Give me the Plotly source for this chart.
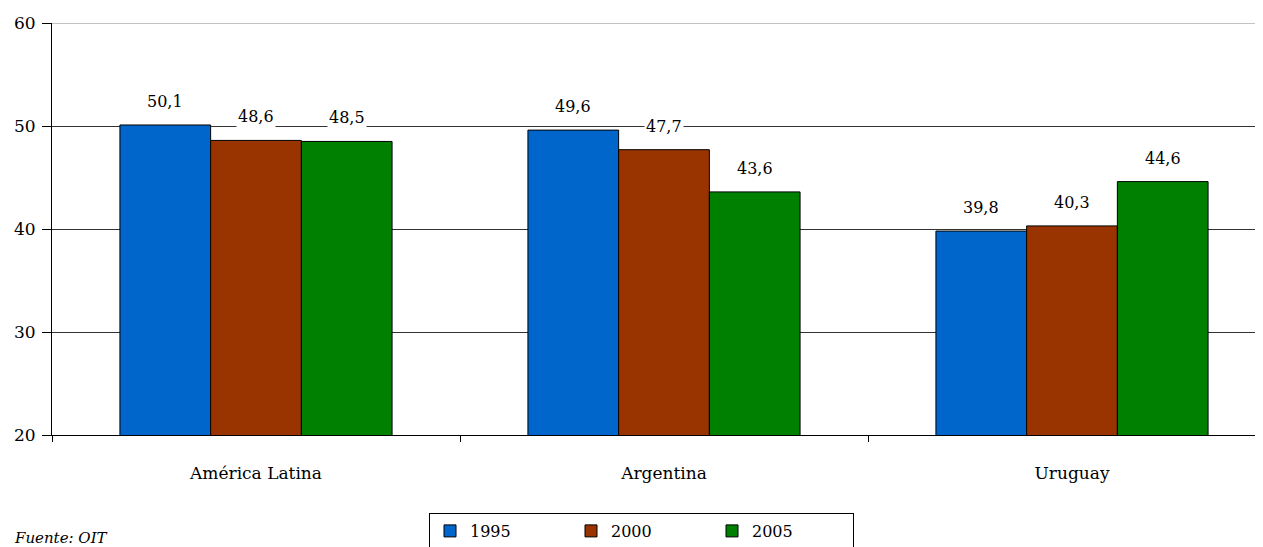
import plotly.graph_objects as go

categories = ["América Latina", "Argentina", "Uruguay"]
years = ["1995", "2000", "2005"]
values_1995 = [50.1, 49.6, 39.8]
values_2000 = [48.6, 47.7, 40.3]
values_2005 = [48.5, 43.6, 44.6]
colors = ["#0066CC", "#993300", "#008000"]
y_ticks = [20, 30, 40, 50, 60]

series = [values_1995, values_2000, values_2005]
FONT = "DejaVu Serif"

PL, PR, PT, PB = 52, 1263, 23, 435
PW, PH = PR - PL, PB - PT
H = 575

fig = go.Figure()
for name, vals, col in zip(years, series, colors):
    fig.add_trace(go.Bar(
        x=categories, y=vals, name=name,
        marker=dict(color=col, line=dict(color="black", width=1)),
    ))

bargap = 0.333
bw = (1 - bargap) / 3
for j, vals in enumerate(series):
    for i, v in enumerate(vals):
        fig.add_annotation(
            x=i + (j - 1) * bw, y=v, xref="x", yref="y",
            text=f"{v:.1f}".replace(".", ","), showarrow=False,
            yanchor="bottom", yshift=12, bgcolor="white",
            font=dict(family=FONT, size=16, color="black"),
        )

fig.add_annotation(
    x=(12 - PL) / PW, y=(PB - 538) / PH, xref="paper", yref="paper",
    text="<i>Fuente: OIT</i>",
    showarrow=False, xanchor="left", yanchor="middle",
    font=dict(family=FONT, size=15, color="black"),
)

# top border line at the upper end of the value axis
fig.add_shape(type="line", xref="paper", yref="y", x0=0, x1=1,
              y0=y_ticks[-1], y1=y_ticks[-1],
              line=dict(color="#888888", width=1), layer="below")

fig.update_layout(
    width=1255, height=H,
    margin=dict(l=PL - 8, r=0, t=PT - 8, b=H - (PT - 8) - PH),
    plot_bgcolor="white", paper_bgcolor="white",
    barmode="group", bargap=bargap, bargroupgap=0,
    font=dict(family=FONT, size=16, color="black"),
    showlegend=True,
    legend=dict(
        orientation="h", x=(641.5 - PL) / PW, xanchor="center",
        y=(PB - 513) / PH, yanchor="top",
        bordercolor="black", borderwidth=1, bgcolor="white",
        entrywidth=96, entrywidthmode="pixels",
        font=dict(family=FONT, size=16, color="black"),
    ),
    xaxis=dict(
        range=[-0.5, 2.5 - 13 / 408],
        showline=True, linecolor="black", linewidth=1,
        ticks="outside", tickson="boundaries", ticklen=6, tickcolor="black",
        showgrid=False, tickfont=dict(family=FONT, size=17),
        ticklabelstandoff=23,
    ),
    yaxis=dict(
        range=[20, 60], tickvals=y_ticks, ticktext=[str(t) for t in y_ticks],
        showline=True, linecolor="black", linewidth=1,
        ticks="outside", ticklen=9, tickcolor="black",
        showgrid=True, gridcolor="#333333", gridwidth=1,
        zeroline=False, tickfont=dict(family=FONT, size=17),
        ticklabelstandoff=3,
    ),
)

fig.write_html("out.html")
